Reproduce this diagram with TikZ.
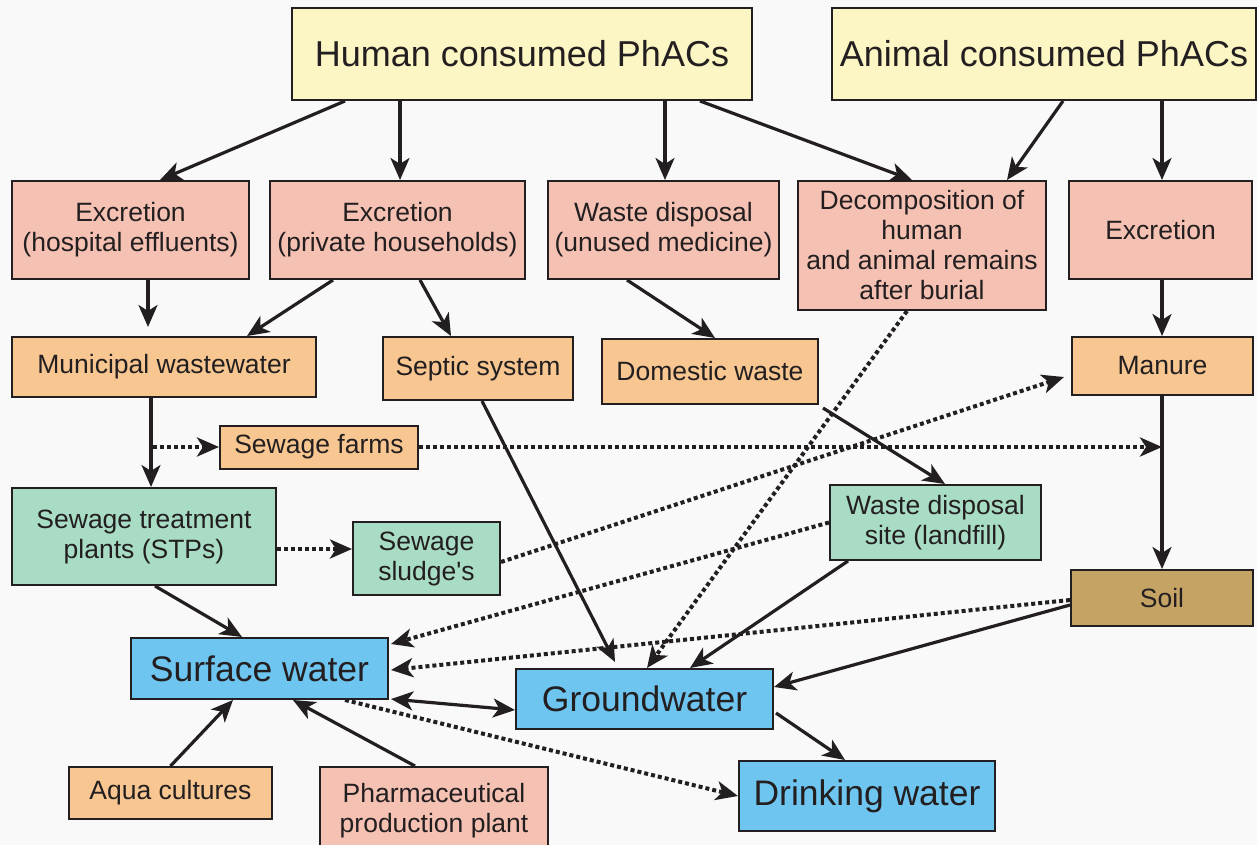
\documentclass[tikz,border=0pt]{standalone}
\usepackage{fontspec}
\setmainfont{Liberation Sans}
\usetikzlibrary{arrows.meta}
\definecolor{ink}{HTML}{231F20}
\definecolor{bgc}{HTML}{F9F9F9}
\definecolor{cyel}{HTML}{FBF6C3}
\definecolor{cpink}{HTML}{F5C1B2}
\definecolor{corange}{HTML}{F7C691}
\definecolor{cgreen}{HTML}{A8DCC4}
\definecolor{cblue}{HTML}{6EC5F0}
\definecolor{csoil}{HTML}{C4A364}
\begin{document}
\begin{tikzpicture}[x=1pt,y=-1pt,
  box/.style={draw=ink, line width=2pt, inner sep=0pt, align=center, text=ink,
    font=\fontsize{26.5}{30}\selectfont},
  bigbox/.style={box, font=\fontsize{36}{40}\selectfont},
  waterbox/.style={box, fill=cblue, font=\fontsize{35.5}{40}\selectfont},
  >={Stealth[length=22pt,width=19pt,inset=6pt]},
  arr/.style={->, draw=ink, line width=3.2pt},
  biarr/.style={<->, draw=ink, line width=3.2pt},
  dotarr/.style={->, draw=ink, line width=4pt, dash pattern=on 4pt off 3pt}
]
\fill[bgc] (0,0) rectangle (1257,845);
\useasboundingbox (0,0) rectangle (1257,845);

% top
\node[bigbox, fill=cyel, minimum width=460pt, minimum height=92pt] (hum) at (522,54) {Human consumed PhACs};
\node[bigbox, fill=cyel, minimum width=424pt, minimum height=92pt] (ani) at (1044,54) {Animal consumed PhACs};
% second row
\node[box, fill=cpink, minimum width=237pt, minimum height=98pt] (exh) at (130.5,230) {Excretion\\(hospital effluents)};
\node[box, fill=cpink, minimum width=255pt, minimum height=98pt] (exp) at (397.5,230) {Excretion\\(private households)};
\node[box, fill=cpink, minimum width=231pt, minimum height=98pt] (wdm) at (663.5,230) {Waste disposal\\(unused medicine)};
\node[box, fill=cpink, minimum width=248pt, minimum height=129pt] (dec) at (922,245.5) {Decomposition of\\human\\and animal remains\\after burial};
\node[box, fill=cpink, minimum width=183pt, minimum height=98pt] (exa) at (1160.5,230) {Excretion};
% third row
\node[box, fill=corange, minimum width=304pt, minimum height=60pt] (mun) at (164,367) {Municipal wastewater};
\node[box, fill=corange, minimum width=190pt, minimum height=63pt] (sep) at (478,368.5) {Septic system};
\node[box, fill=corange, minimum width=216pt, minimum height=65pt] (dom) at (710,371.5) {Domestic waste};
\node[box, fill=corange, minimum width=181pt, minimum height=58pt] (man) at (1162.5,366) {Manure};
\node[box, fill=corange, minimum width=198pt, minimum height=43pt] (sfa) at (319,447) {Sewage farms};
% fourth
\node[box, fill=cgreen, minimum width=264pt, minimum height=97pt] (stp) at (144,536.5) {Sewage treatment\\plants (STPs)};
\node[box, fill=cgreen, minimum width=147pt, minimum height=73pt] (slu) at (426.5,558.5) {Sewage\\sludge\textquotesingle s};
\node[box, fill=cgreen, minimum width=211pt, minimum height=75pt] (lan) at (935.5,522.5) {Waste disposal\\site (landfill)};
\node[box, fill=csoil, minimum width=182pt, minimum height=56pt] (soi) at (1162,598) {Soil};
% waters
\node[waterbox, minimum width=257pt, minimum height=61pt] (suw) at (259.5,668.5) {Surface water};
\node[waterbox, minimum width=257pt, minimum height=60pt] (grw) at (644.5,699) {Groundwater};
\node[waterbox, minimum width=256pt, minimum height=70pt] (drw) at (867,796) {Drinking water};
% bottom
\node[box, fill=corange, minimum width=203pt, minimum height=52pt] (aqu) at (170.5,793) {Aqua cultures};
\node[box, fill=cpink, minimum width=228pt, minimum height=88pt] (pha) at (434,811) {Pharmaceutical\\production plant};

\coordinate (exhend) at (148,327);
\coordinate (j1) at (153,447);
\coordinate (j2) at (1162,447);

% arrows from top boxes
\draw[arr] ([xshift=-177pt]hum.south) -- ([xshift=29.5pt]exh.north);
\draw[arr] ([xshift=-122pt]hum.south) -- ([xshift=2.5pt]exp.north);
\draw[arr] ([xshift=143pt]hum.south) -- ([xshift=1.5pt]wdm.north);
\draw[arr] ([xshift=178pt]hum.south) -- ([xshift=-10pt]dec.north);
\draw[arr] ([xshift=19pt]ani.south) -- ([xshift=85pt]dec.north);
\draw[arr] ([xshift=118pt]ani.south) -- ([xshift=1.5pt]exa.north);
% second row
\draw[arr] ([xshift=17.5pt]exh.south) -- (exhend);
\draw[arr] ([xshift=-64.5pt]exp.south) -- ([xshift=83pt]mun.north);
\draw[arr] ([xshift=22.5pt]exp.south) -- ([xshift=-27pt]sep.north);
\draw[arr] ([xshift=-36.5pt]wdm.south) -- ([xshift=5pt]dom.north);
\draw[arr] ([xshift=1.5pt]exa.south) -- ([xshift=-0.5pt]man.north);
% third
\draw[arr] ([xshift=-13pt]mun.south) -- ([xshift=7pt]stp.north);
\draw[dotarr] (j1) -- (sfa.west);
\draw[dotarr] (sfa.east) -- (j2);
\draw[arr] ([xshift=-0.5pt]man.south) -- (soi.north);
\draw[dotarr] ([yshift=-12.5pt]stp.east) -- ([yshift=9.5pt]slu.west);
\draw[dotarr] ([yshift=-3.5pt]slu.east) -- ([xshift=-7pt,yshift=-11pt]man.west);
\draw[arr] ([xshift=4pt,yshift=-3pt]dom.south east) -- ([xshift=9.5pt]lan.north);
\draw[dotarr] ([xshift=-15pt]dec.south) -- ([xshift=2.5pt]grw.north);
\draw[arr] ([xshift=4pt]sep.south) -- ([xshift=-29.5pt,yshift=6pt]grw.north);
\draw[dotarr] (lan.west) -- ([xshift=2pt,yshift=-7pt]suw.north east);
\draw[arr] ([xshift=-87.5pt]lan.south) -- ([xshift=45.5pt]grw.north);
\draw[dotarr] ([yshift=-2pt]soi.west) -- ([xshift=2pt,yshift=-1.5pt]suw.east);
\draw[arr] ([yshift=-7pt]soi.west) -- ([yshift=12pt]grw.east);
\draw[arr] ([xshift=11pt]stp.south) -- ([xshift=-17.5pt]suw.north);
% waters
\draw[biarr] ([xshift=2pt,yshift=1pt]suw.south east) -- ([yshift=-11pt]grw.west);
\draw[arr] ([xshift=2pt,yshift=-14pt]grw.east) -- ([xshift=-22pt]drw.north);
\draw[dotarr] ([xshift=85.5pt]suw.south) -- (drw.west);
\draw[arr] (aqu.north) -- ([xshift=-26.5pt]suw.south);
\draw[arr] ([xshift=-19pt]pha.north) -- ([xshift=33.5pt]suw.south);
\end{tikzpicture}
\end{document}
